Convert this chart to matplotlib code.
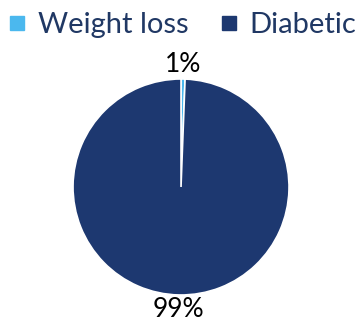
import matplotlib
matplotlib.use("Agg")
import matplotlib.pyplot as plt
from matplotlib.lines import Line2D

labels = ['Weight loss', 'Diabetic']
values = [0.6, 99.4]
colors = ['#4BB8EE', '#1D3870']

plt.rcParams['font.family'] = ['Lato', 'DejaVu Sans']

fig = plt.figure(figsize=(3.62, 3.22), dpi=100)
ax = fig.add_axes([0.2017, 0.0839, 0.5967, 0.6708])

wedges, texts, autotexts = ax.pie(
    values, colors=colors, startangle=90, counterclock=False,
    autopct='%.0f%%', pctdistance=1.13,
    wedgeprops=dict(edgecolor='white', linewidth=1.2),
    textprops=dict(fontsize=19, color='black'))
for t in autotexts:
    t.set_clip_on(False)
ax.set_xlim(-1, 1)
ax.set_ylim(-1, 1)
ax.set_aspect('equal')
ax.axis('off')

handles = [Line2D([], [], marker='s', linestyle='', markersize=9.5,
                  markerfacecolor=c, markeredgecolor=c) for c in colors]
fig.legend(handles, labels, loc='upper center', bbox_to_anchor=(0.5, 1.045),
           ncol=2, frameon=False, fontsize=21, labelcolor='#203864',
           handletextpad=0.3, columnspacing=1.0, handlelength=0.8)

fig.savefig('out.png', dpi=100)
